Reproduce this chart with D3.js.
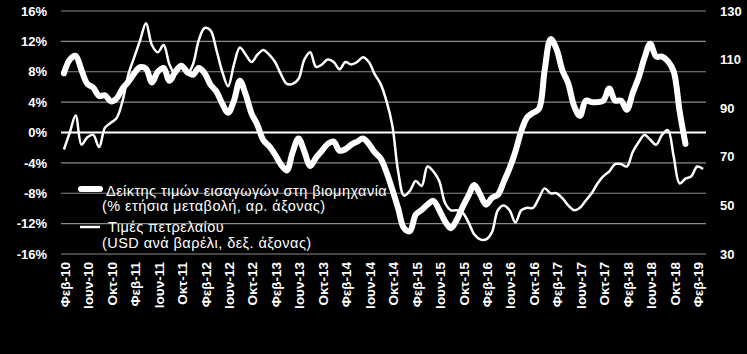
<!DOCTYPE html>
<html>
<head>
<meta charset="utf-8">
<script src="https://cdn.jsdelivr.net/npm/d3@7"></script>
<style>
  html, body { margin: 0; padding: 0; background: #000; }
  svg { display: block; }
  text { font-family: "Liberation Sans", Arial, sans-serif; fill: #fff; }
</style>
</head>
<body>
<script>
// ---- Data ----
const monthNames = ["Ιαν","Φεβ","Μαρ","Απρ","Μαϊ","Ιουν","Ιουλ","Αυγ","Σεπ","Οκτ","Νοε","Δεκ"];
// categories: monthly, Φεβ-10 ... Μαρ-19
const categories = [];
for (let y = 2010; y <= 2019; y++) {
  for (let m = 0; m < 12; m++) {
    if (y === 2010 && m < 1) continue;
    if (y === 2019 && m > 2) continue;
    categories.push(monthNames[m] + "-" + String(y).slice(2));
  }
}
const tickLabels = ["Φεβ-10","Ιουν-10","Οκτ-10","Φεβ-11","Ιουν-11","Οκτ-11","Φεβ-12","Ιουν-12","Οκτ-12",
  "Φεβ-13","Ιουν-13","Οκτ-13","Φεβ-14","Ιουν-14","Οκτ-14","Φεβ-15","Ιουν-15","Οκτ-15","Φεβ-16","Ιουν-16",
  "Οκτ-16","Φεβ-17","Ιουν-17","Οκτ-17","Φεβ-18","Ιουν-18","Οκτ-18","Φεβ-19"];

// Import price index in industry, % yoy (left axis), Φεβ-10 ... Δεκ-18
const importPrices = [
  7.8, 9.6, 10.1, 8.2, 6.4, 5.9, 4.8, 4.9, 4.1, 4.5, 5.8, 6.7,
  7.8, 8.6, 8.4, 6.6, 8.0, 8.5, 6.8, 8.0, 8.8, 8.0, 7.6, 8.5,
  7.8, 6.3, 5.4, 3.8, 2.6, 4.2, 6.8, 5.0, 2.5, 1.0, -1.0, -1.8,
  -2.9, -4.2, -5.0, -2.6, -0.8, -2.5, -4.4, -3.3, -2.4, -1.5, -1.2, -2.4,
  -2.2, -1.6, -1.2, -0.8, -1.5, -2.6, -3.4, -5.2, -7.5, -10.0, -12.6, -13.0,
  -10.8, -10.2, -9.5, -9.0, -10.2, -11.7, -12.6, -11.5, -9.8, -8.3, -6.9, -8.2,
  -9.5, -8.6, -8.2, -6.5, -4.7, -2.5, 0.2, 2.0, 2.6, 3.1, 8.3, 12.3,
  11.0, 8.2, 6.5, 3.5, 2.2, 4.2, 4.0, 4.0, 4.2, 5.8, 4.2, 4.2,
  3.0, 5.2, 7.2, 9.8, 11.7, 10.0, 10.0, 9.4, 8.0, 2.8, -1.5
];
// Oil price, USD per barrel (right axis), Φεβ-10 ... Μαρ-19
const oilPrices = [
  73, 80, 87, 75, 78, 79, 74, 82, 84, 86, 93, 104,
  111, 118, 125, 116, 113, 116, 108, 104, 107, 104, 108, 118,
  123, 122, 114, 105, 99, 108, 115, 112, 109, 112, 114, 112,
  109, 104, 100, 100, 102, 110, 113, 107, 108, 110, 109, 106,
  109, 108, 109, 111, 109, 104, 100, 93, 83, 64, 54, 56,
  60, 58, 66, 64, 60, 51, 48, 48, 47, 43, 38, 36,
  36, 39, 48, 50, 48, 43, 48, 49, 49, 53, 57, 55,
  55, 53, 50, 48, 49, 52, 55, 59, 62, 64, 67, 67,
  66, 72, 76, 79, 77, 75, 79, 81, 70, 59, 61, 62,
  66, 65
];
const leftTicks = [-16, -12, -8, -4, 0, 4, 8, 12, 16];
const rightTicks = [30, 50, 70, 90, 110, 130];
const legendLabels = [
  ["Δείκτης τιμών εισαγωγών στη βιομηχανία", "(% ετήσια μεταβολή, αρ. άξονας)"],
  ["Τιμές πετρελαίου", "(USD ανά βαρέλι, δεξ. άξονας)"]
];

// ---- Chart ----
const W = 747, H = 354;
const m = { left: 61, right: 706, top: 11, bottom: 254 };
const svg = d3.select("body").append("svg").attr("width", W).attr("height", H)
  .style("background", "#000");
svg.append("rect").attr("width", W).attr("height", H).attr("fill", "#000");

const x = d3.scaleBand().domain(categories).range([m.left, m.right]).padding(0);
const xc = d => x(d) + x.bandwidth() / 2;
const yL = d3.scaleLinear().domain([-16, 16]).range([m.bottom, m.top]);
const yR = d3.scaleLinear().domain([30, 130]).range([m.bottom, m.top]);

// gridlines
svg.append("g").selectAll("line").data(leftTicks).join("line")
  .attr("x1", m.left).attr("x2", m.right)
  .attr("y1", d => yL(d)).attr("y2", d => yL(d))
  .attr("stroke", d => d === 0 ? "#fff" : "#8a8a8a")
  .attr("stroke-width", d => d === 0 ? 2 : 1.2);

// left axis
const axL = svg.append("g").attr("transform", `translate(${m.left},0)`)
  .call(d3.axisLeft(yL).tickValues(leftTicks).tickSize(0).tickPadding(14)
    .tickFormat(d => d + "%"));
axL.select(".domain").remove();
axL.selectAll("text").style("font-size", "13px").style("font-weight", "bold")
  .attr("fill", "#fff");

// right axis
const axR = svg.append("g").attr("transform", `translate(${m.right},0)`)
  .call(d3.axisRight(yR).tickValues(rightTicks).tickSize(0).tickPadding(14));
axR.select(".domain").remove();
axR.selectAll("text").style("font-size", "13px").style("font-weight", "bold")
  .attr("fill", "#fff");

// x labels
svg.append("g").selectAll("text").data(tickLabels).join("text")
  .attr("transform", d => `translate(${xc(d) + 1},262) rotate(-90)`)
  .attr("dy", "0.36em")
  .attr("text-anchor", "end")
  .style("font-size", "13.5px").style("font-weight", "bold")
  .text(d => d);

// lines
const lineL = d3.line().x((d, i) => xc(categories[i])).y(d => yL(d))
  .curve(d3.curveCatmullRom.alpha(0.5));
const lineR = d3.line().x((d, i) => xc(categories[i])).y(d => yR(d))
  .curve(d3.curveCatmullRom.alpha(0.5));

svg.append("path").datum(importPrices).attr("d", lineL)
  .attr("fill", "none").attr("stroke", "#fff").attr("stroke-width", 6)
  .attr("stroke-linejoin", "round").attr("stroke-linecap", "round");
svg.append("path").datum(oilPrices).attr("d", lineR)
  .attr("fill", "none").attr("stroke", "#fff").attr("stroke-width", 2.5)
  .attr("stroke-linejoin", "round");

// legend
const lg = svg.append("g").style("font-size", "14.5px").style("letter-spacing", "0.45px");
lg.append("line").attr("x1", 81).attr("x2", 100).attr("y1", 189).attr("y2", 189)
  .attr("stroke", "#fff").attr("stroke-width", 6).attr("stroke-linecap", "round");
lg.append("line").attr("x1", 80).attr("x2", 100).attr("y1", 227).attr("y2", 227)
  .attr("stroke", "#fff").attr("stroke-width", 2.5);
lg.append("text").attr("x", 106).attr("y", 196).text(legendLabels[0][0]);
lg.append("text").attr("x", 102).attr("y", 211).text(legendLabels[0][1]);
lg.append("text").attr("x", 108).attr("y", 232).text(legendLabels[1][0]);
lg.append("text").attr("x", 102).attr("y", 248).text(legendLabels[1][1]);
</script>
</body>
</html>
